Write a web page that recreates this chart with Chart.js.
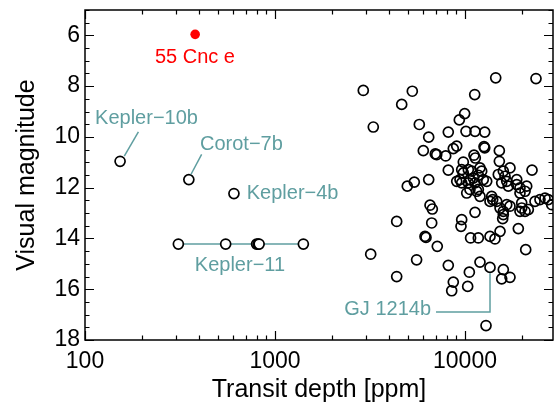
<!DOCTYPE html>
<html>
<head>
<meta charset="utf-8">
<script src="https://cdn.jsdelivr.net/npm/chart.js@4.4.1/dist/chart.umd.min.js"></script>
<style>
  html, body { margin: 0; padding: 0; background: #fff; }
  #chart { display: block; }
</style>
</head>
<body>
<canvas id="chart" width="555" height="402"></canvas>
<script>
// transit depth [ppm] and visual magnitude of the unlabelled planets
const depthPpm = [
  2915, 5280, 14510, 23640, 11250, 4644, 3291, 9960, 9333, 5748,
  6441, 8167, 10120, 11290, 12700, 6033, 6978, 7097, 7914, 8678,
  9044, 12590, 12700, 15160, 11150, 11330, 15160, 9797, 17250, 15910,
  22530, 8167, 6441, 5410, 4969, 9607, 9797, 10410, 10850, 11990,
  12240, 11750, 10620, 11060, 9413, 9044, 9607, 10410, 11290, 12480,
  13010, 11750, 10620, 11520, 11990, 14970, 16240, 16580, 16900, 15600,
  18720, 18720, 19470, 21120, 20700, 19470, 13820, 13540, 14690, 15290,
  15910, 17250, 19880, 19470, 20700, 21540, 23360, 24810, 26370, 27440,
  28600, 10210, 13990, 16580, 19880, 15910, 15790, 11290, 6545, 6730,
  6680, 4370, 9607, 9527, 6158, 6233, 7147, 10700, 11750, 13540,
  14380, 15290, 19080, 20870, 3189, 5563, 4370, 8167, 11990, 10540,
  15910, 15600, 17250, 8678, 8511, 10330, 12900
];
const vmag = [
  8.17, 8.20, 7.67, 7.70, 8.33, 8.72, 9.61, 9.08, 9.33, 9.51,
  10.01, 9.81, 9.78, 9.78, 9.81, 10.54, 10.67, 10.70, 10.75, 10.46,
  10.36, 10.38, 10.43, 10.54, 10.72, 10.83, 10.96, 10.99, 11.22, 11.35,
  11.31, 11.31, 11.68, 11.78, 11.94, 11.29, 11.42, 11.29, 11.35, 11.22,
  11.35, 11.51, 11.68, 11.62, 11.68, 11.75, 11.81, 11.81, 11.81, 11.68,
  11.75, 12.07, 12.07, 12.14, 12.34, 11.48, 11.55, 11.75, 11.94, 11.81,
  11.68, 11.88, 12.01, 11.94, 12.14, 12.21, 12.34, 12.54, 12.54, 12.80,
  13.06, 12.73, 12.80, 12.93, 12.93, 12.86, 12.54, 12.47, 12.41, 12.47,
  12.67, 12.21, 12.47, 12.67, 12.60, 12.93, 13.22, 12.97, 12.69, 12.84,
  13.39, 13.33, 13.26, 13.52, 13.92, 13.96, 14.31, 13.98, 13.98, 13.92,
  14.02, 13.72, 13.61, 14.44, 14.62, 14.84, 15.50, 15.06, 14.93, 15.33,
  15.23, 15.59, 15.53, 15.72, 16.06, 15.89, 17.43
];

// named planets
const namedPlanets = ['Kepler−10b', 'Corot−7b', 'Kepler−4b', 'GJ 1214b'];
const namedDepth = [153, 352, 608, 13540];
const namedMag = [10.96, 11.68, 12.23, 15.14];

// Kepler-11 system (all the same star)
const kepler11Depth = [310, 550, 800, 815, 825, 1410];
const kepler11Mag = [14.22, 14.22, 14.22, 14.22, 14.22, 14.22];

const cncDepth = [380];
const cncMag = [5.96];

// axes
const xTicks = [100, 200, 300, 400, 500, 600, 700, 800, 900,
                1000, 2000, 3000, 4000, 5000, 6000, 7000, 8000, 9000,
                10000, 20000];
const xTickLabels = [100, 1000, 10000];
const yTickLabels = [6, 8, 10, 12, 14, 16, 18];

const teal = '#5f9ea0';
const fontFamily = "'Liberation Sans', Arial, Helvetica, sans-serif";

// text labels and leader lines, in data units
const notes = [
  { text: '55 Cnc e', x: 379, y: 6.86, align: 'center', color: 'red' },
  { text: namedPlanets[0], x: 113, y: 9.26, align: 'left', color: teal },
  { text: namedPlanets[1], x: 403, y: 10.28, align: 'left', color: teal },
  { text: namedPlanets[2], x: 710, y: 12.22, align: 'left', color: teal },
  { text: 'Kepler−11', x: 654, y: 15.06, align: 'center', color: teal },
  { text: namedPlanets[3], x: 6624, y: 16.81, align: 'right', color: teal }
];
const leaders = [
  [[191, 9.80], [161, 10.76]],
  [[411, 10.69], [361, 11.48]],
  [[13540, 15.37], [13540, 16.90], [7037, 16.90]]
];

const pts = (xs, ys) => xs.map((x, i) => ({ x: x, y: ys[i] }));

// no extra room for the first/last tick labels, the plot fills the frame
const noPad = s => {
  s.paddingTop = 0; s.paddingBottom = 0;
  s.paddingLeft = 0; s.paddingRight = 0;
};

const frameTicks = {
  id: 'frameTicks',
  afterDraw(chart) {
    const ctx = chart.ctx;
    const a = chart.chartArea;
    const sx = chart.scales.x, sy = chart.scales.y;
    ctx.save();
    ctx.strokeStyle = '#000';
    ctx.lineWidth = 1.5;
    ctx.strokeRect(a.left, a.top, a.right - a.left, a.bottom - a.top);
    ctx.lineWidth = 1.2;
    ctx.beginPath();
    sx.ticks.forEach(t => {
      const px = Math.round(sx.getPixelForValue(t.value)) + 0.5;
      const len = xTickLabels.includes(t.value) ? 9 : 4.5;
      ctx.moveTo(px, a.bottom); ctx.lineTo(px, a.bottom - len);
      ctx.moveTo(px, a.top); ctx.lineTo(px, a.top + len);
    });
    sy.ticks.forEach(t => {
      const py = Math.round(sy.getPixelForValue(t.value)) + 0.5;
      const len = yTickLabels.includes(t.value) ? 9 : 4.5;
      ctx.moveTo(a.left, py); ctx.lineTo(a.left + len, py);
      ctx.moveTo(a.right, py); ctx.lineTo(a.right - len, py);
    });
    ctx.stroke();
    ctx.restore();
  }
};

const annotations = {
  id: 'annotations',
  afterDatasetsDraw(chart) {
    const ctx = chart.ctx;
    const sx = chart.scales.x, sy = chart.scales.y;
    ctx.save();
    ctx.strokeStyle = teal;
    ctx.lineWidth = 1.5;
    leaders.forEach(line => {
      ctx.beginPath();
      line.forEach((p, i) => {
        const px = sx.getPixelForValue(p[0]), py = sy.getPixelForValue(p[1]);
        if (i === 0) ctx.moveTo(px, py); else ctx.lineTo(px, py);
      });
      ctx.stroke();
    });
    ctx.font = '20px ' + fontFamily;
    ctx.textBaseline = 'middle';
    notes.forEach(n => {
      ctx.fillStyle = n.color;
      ctx.textAlign = n.align;
      ctx.fillText(n.text, sx.getPixelForValue(n.x), sy.getPixelForValue(n.y));
    });
    ctx.restore();
  }
};

Chart.defaults.font.family = fontFamily;

new Chart(document.getElementById('chart'), {
  type: 'scatter',
  data: {
    datasets: [
      {
        label: 'planets',
        data: pts(depthPpm, vmag).concat(pts(namedDepth, namedMag)),
        pointStyle: 'circle',
        pointRadius: 5,
        pointBorderWidth: 1.7,
        borderColor: '#000',
        backgroundColor: 'rgba(0,0,0,0)',
        order: 2
      },
      {
        label: 'Kepler-11',
        data: pts(kepler11Depth, kepler11Mag),
        showLine: true,
        borderColor: teal,
        borderWidth: 1.5,
        pointRadius: 5,
        pointBorderWidth: 1.7,
        pointBorderColor: '#000',
        pointBackgroundColor: '#fff',
        order: 1
      },
      {
        label: '55 Cnc e',
        data: pts(cncDepth, cncMag),
        pointRadius: 4.8,
        pointBorderWidth: 0,
        backgroundColor: 'red',
        borderColor: 'red',
        order: 0
      }
    ]
  },
  options: {
    responsive: false,
    animation: false,
    devicePixelRatio: 1,
    layout: { autoPadding: false, padding: { top: 10, right: 2, left: 0, bottom: 0 } },
    plugins: { legend: { display: false }, tooltip: { enabled: false } },
    scales: {
      x: {
        type: 'logarithmic',
        min: 100,
        max: 29050,
        grid: { display: false, drawTicks: false },
        border: { display: false },
        afterBuildTicks: s => { s.ticks = xTicks.map(v => ({ value: v })); },
        afterFit: s => { s.height = 62; noPad(s); },
        ticks: {
          autoSkip: false,
          maxRotation: 0,
          padding: 8,
          color: '#000',
          font: { size: 23 },
          callback: v => xTickLabels.includes(v) ? String(v) : ''
        },
        title: {
          display: true,
          text: 'Transit depth [ppm]',
          color: '#000',
          font: { size: 25 },
          padding: { top: 0, bottom: -3 }
        }
      },
      y: {
        min: 5,
        max: 18,
        reverse: true,
        grid: { display: false, drawTicks: false },
        border: { display: false },
        afterFit: s => { s.width = 85; noPad(s); },
        ticks: {
          stepSize: 0.5,
          autoSkip: false,
          padding: 5,
          color: '#000',
          font: { size: 23 },
          callback: v => yTickLabels.includes(v) ? String(v) : ''
        },
        title: {
          display: true,
          text: 'Visual magnitude',
          color: '#000',
          font: { size: 25 },
          padding: { top: 12, bottom: 0 }
        }
      }
    }
  },
  plugins: [frameTicks, annotations]
});
</script>
</body>
</html>
